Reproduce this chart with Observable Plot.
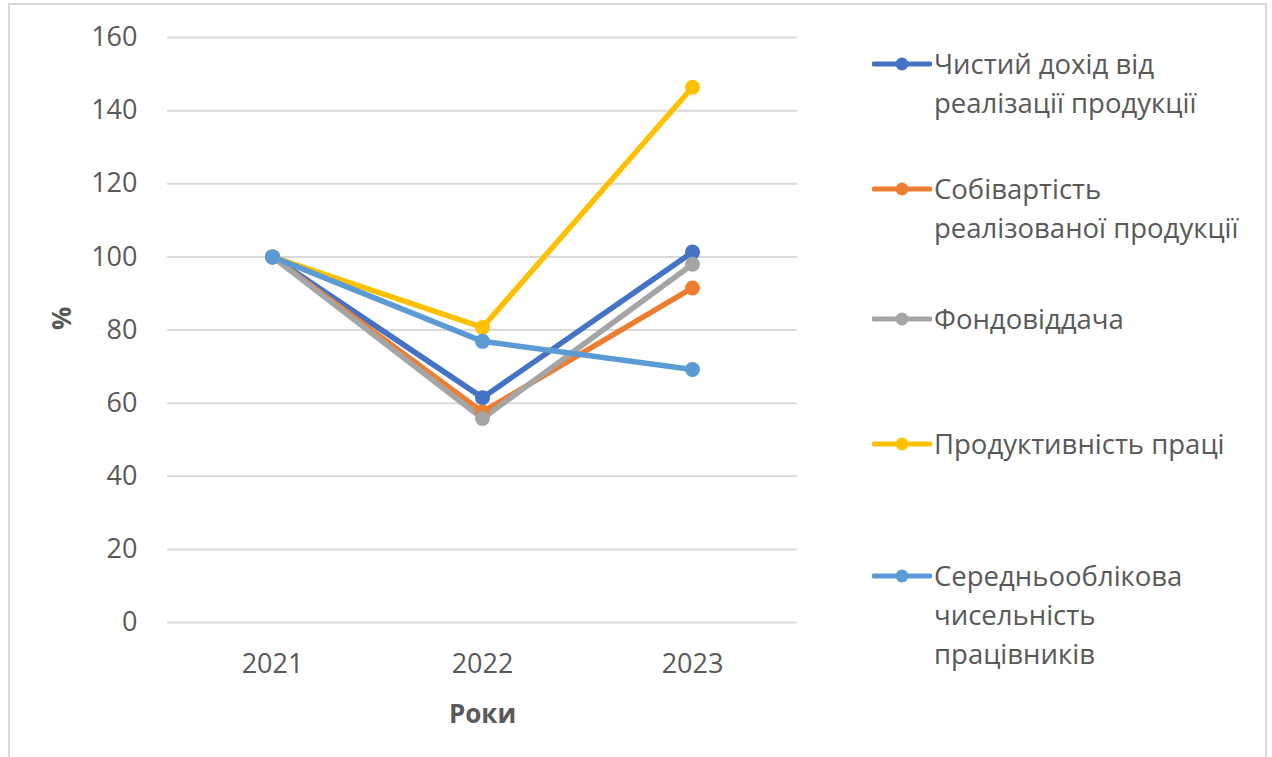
<!DOCTYPE html>
<html>
<head>
<meta charset="utf-8">
<script src="https://cdn.jsdelivr.net/npm/d3@7"></script>
<script src="https://cdn.jsdelivr.net/npm/@observablehq/plot@0.6"></script>
<style>
  html, body { margin: 0; padding: 0; background: #fff; }
  body { width: 1272px; height: 757px; position: relative; overflow: hidden; font-family: "Open Sans", sans-serif; }
  #frame { position: absolute; left: 8px; top: 3px; width: 1259px; height: 800px; border: 2px solid #d9d9d9; box-sizing: border-box; pointer-events: none; }
  #chart { position: absolute; left: 0; top: 0; }
  #legend { position: absolute; left: 872px; top: 0; color: #595959; font-size: 27.5px; }
  .item { position: absolute; left: 0; display: flex; align-items: flex-start; white-space: nowrap; }
  .item svg { flex: none; margin-top: 0; }
  .item .lbl { line-height: 39px; margin-left: 2px; }
</style>
</head>
<body>
<div id="chart"></div>
<div id="legend"></div>
<div id="frame"></div>
<script>
const years = ["2021", "2022", "2023"];
const seriesNames = [
  "Чистий дохід від реалізації продукції",
  "Собівартість реалізованої продукції",
  "Фондовіддача",
  "Продуктивність праці",
  "Середньооблікова чисельність працівників"
];
const legendLines = [
  ["Чистий дохід від", "реалізації продукції"],
  ["Собівартість", "реалізованої продукції"],
  ["Фондовіддача"],
  ["Продуктивність праці"],
  ["Середньооблікова", "чисельність", "працівників"]
];
const colors = ["#4472C4", "#ED7D31", "#A5A5A5", "#FFC000", "#5B9BD5"];
const netIncome = [100, 61.5, 101.3];
const costOfSales = [100, 57.6, 91.5];
const assetTurnover = [100, 55.8, 98.0];
const laborProductivity = [100, 80.7, 146.4];
const headcount = [100, 76.9, 69.2];
const yTicks = [0, 20, 40, 60, 80, 100, 120, 140, 160];
const legendTops = [44, 169, 299, 424, 556];

const allValues = [netIncome, costOfSales, assetTurnover, laborProductivity, headcount];
const rows = [];
allValues.forEach((vals, i) => {
  vals.forEach((v, j) => rows.push({series: seriesNames[i], year: years[j], value: v}));
});

const plot = Plot.plot({
  width: 1272,
  height: 757,
  marginLeft: 167,
  marginRight: 475,
  marginTop: 37,
  marginBottom: 135,
  style: { fontFamily: "Open Sans, sans-serif", fontSize: "26px", color: "#595959", background: "transparent" },
  x: { type: "point", domain: years, padding: 0.5, label: null },
  y: { domain: [0, 160], label: null },
  color: { domain: seriesNames, range: colors },
  marks: [
    Plot.gridY(yTicks, { stroke: "#d9d9d9", strokeOpacity: 1, strokeWidth: 2 }),
    Plot.axisY(yTicks, { tickSize: 0, tickPadding: 30, fontSize: 27, fill: "#595959", label: null }),
    Plot.axisX({ tickSize: 0, tickPadding: 31, fontSize: 27, fill: "#595959", label: null }),
    Plot.text(["%"], { frameAnchor: "left", dx: -105, rotate: -90, fontSize: 26, fontWeight: "bold", fill: "#595959" }),
    Plot.text(["Роки"], { frameAnchor: "bottom", dy: 100, fontSize: 26, fontWeight: "bold", fill: "#595959" }),
    Plot.line(rows, { x: "year", y: "value", z: "series", stroke: "series", strokeWidth: 5.5, strokeLinecap: "round", strokeLinejoin: "round" }),
    Plot.dot(rows, { x: "year", y: "value", fill: "series", r: 7.5, stroke: null })
  ]
});
document.getElementById("chart").appendChild(plot);

const legend = d3.select("#legend");
seriesNames.forEach((name, i) => {
  const item = legend.append("div").attr("class", "item").style("top", legendTops[i] + "px");
  const svg = item.append("svg").attr("width", 60).attr("height", 39);
  svg.append("line").attr("x1", 2).attr("x2", 58).attr("y1", 20).attr("y2", 20)
    .attr("stroke", colors[i]).attr("stroke-width", 5).attr("stroke-linecap", "round");
  svg.append("circle").attr("cx", 30).attr("cy", 20).attr("r", 6.5).attr("fill", colors[i]);
  const lbl = item.append("div").attr("class", "lbl");
  legendLines[i].forEach(t => lbl.append("div").text(t));
});
</script>
</body>
</html>
